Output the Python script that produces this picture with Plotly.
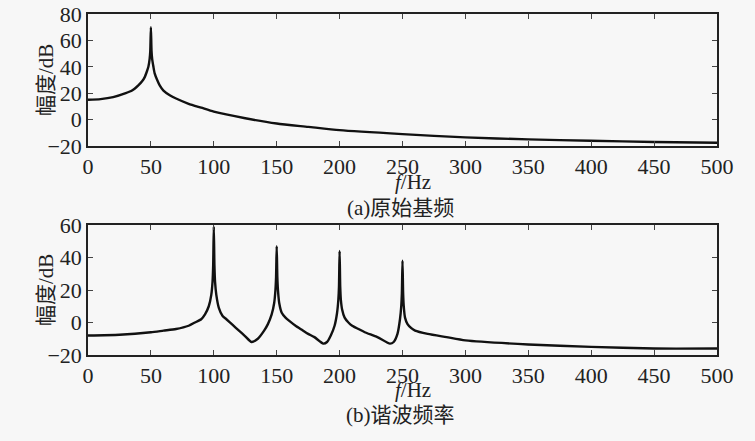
import plotly.graph_objects as go

f1 = [0,10,20,30,35,40,43,45,47,48,49,49.5,50,50.5,51,52,53,55,57,60,65,70,80,90,100,125,150,175,200,250,300,350,400,450,500]
a1 = [15,15.5,17,20,22,26,29,32,37,40,46,52,70,52,46,40,35,30,26,22,18.5,16,12,9,6,1,-3,-5.5,-8,-11,-13.5,-15,-16,-17,-17.5]
f2 = [0,25,50,60,70,80,85,90,93,96,98,99,99.5,100,100.5,101,102,104,107,110,115,120,125,130,135,140,143,146,148,149,149.5,150,150.5,151,152,154,157,160,165,170,175,180,187,190,193,196,198,199,199.5,200,200.5,201,202,204,207,210,215,220,230,240,243,246,248,249,249.5,250,250.5,251,252,254,257,260,270,285,300,350,400,450,500]
a2 = [-8,-7.5,-6,-5,-4,-2,0,2,5,10,17,25,35,59,35,25,17,9,4,2,-1.5,-5,-8.5,-12,-10,-5,-1,5,12,20,28,47,28,20,12,6,3,1,-2,-4.5,-7,-9,-13,-12,-8,-2,6,14,22,44,22,14,8,3,0,-2,-4,-6,-9,-13,-12,-7,2,10,18,38,18,10,3,-1,-3.5,-5,-7,-9,-11,-13.5,-15,-16,-16]
xticks = [0,50,100,150,200,250,300,350,400,450,500]

W, H = 755, 441
def px(x): return x / W
def py(y): return 1 - y / H

bg = "#f7f7f7"
serif = "Liberation Serif, Times New Roman, DejaVu Serif, serif"
num = dict(family=serif, size=22, color="#222")
cjk = dict(family=serif + ", Noto Sans CJK SC", size=21, color="#222")
fig = go.Figure()
for f, a, xa, ya in [(f1, a1, "x", "y"), (f2, a2, "x2", "y2")]:
    fig.add_trace(go.Scatter(x=f, y=a, mode="lines", line=dict(color="#111", width=2.4, shape="spline", smoothing=0.6), xaxis=xa, yaxis=ya))
ax = dict(range=[0,500], tickvals=xticks, ticks="inside", ticklen=5, showgrid=False, zeroline=False,
          showline=True, linecolor="#222", linewidth=1.5, mirror="ticks", tickfont=num, automargin=False)
ay = dict(ticks="inside", ticklen=5, showgrid=False, zeroline=False, showline=True, linecolor="#222",
          linewidth=1.5, mirror="ticks", tickfont=num, automargin=False)
xd = [px(88), px(717)]
fig.update_layout(
    width=W, height=H, paper_bgcolor=bg, plot_bgcolor=bg, showlegend=False,
    margin=dict(l=0, r=0, t=0, b=0, autoexpand=False), font=num,
    xaxis=dict(ax, domain=xd, anchor="y"),
    yaxis=dict(ay, domain=[py(146), py(14)], range=[-20,80], anchor="x", tickvals=[-20,0,20,40,60,80], ticktext=["−20","0","20","40","60","80"]),
    xaxis2=dict(ax, domain=xd, anchor="y2"),
    yaxis2=dict(ay, domain=[py(355), py(225)], range=[-20,60], anchor="x2", tickvals=[-20,0,20,40,60], ticktext=["−20","0","20","40","60"]),
)
anns = [
    (413, 182, "<i>f</i>/Hz", 0), (400, 208, "(a)原始基频", 0),
    (413, 390, "<i>f</i>/Hz", 0), (400, 415, "(b)谐波频率", 0),
    (46, 80, "幅度/dB", -90), (46, 290, "幅度/dB", -90),
]
for x, y, t, ang in anns:
    fig.add_annotation(x=px(x), y=py(y), xref="paper", yref="paper", text=t, showarrow=False,
                       textangle=ang, font=cjk, xanchor="center", yanchor="middle")
fig.write_html("out.html", config={"displayModeBar": False},
               post_script="document.body.style.margin='0';document.body.style.overflow='hidden';")
